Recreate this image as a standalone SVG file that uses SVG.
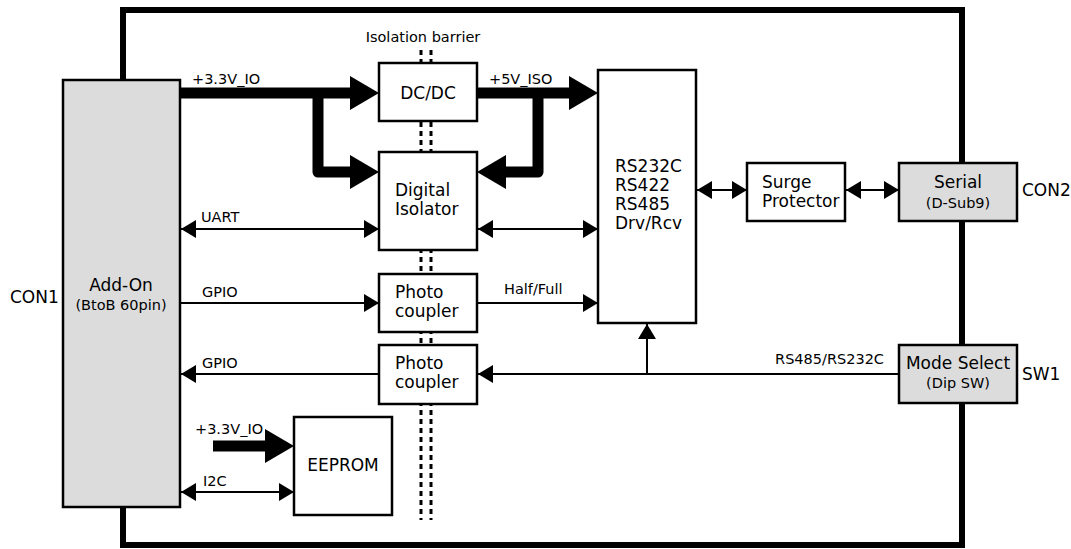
<svg xmlns="http://www.w3.org/2000/svg" width="1071" height="549" viewBox="0 0 1071 549">
<style>
text{font-family:"DejaVu Sans",Verdana,sans-serif;fill:#000}
.box{fill:#fff;stroke:#000;stroke-width:2.5}
.gbox{fill:#dcdcdc;stroke:#000;stroke-width:2.5}
.t14{font-size:17px}
.t12{font-size:14.5px}
.t11{font-size:14.5px}
.thin{stroke:#000;stroke-width:2;fill:none}
.thick{stroke:#000;stroke-width:11;fill:none;stroke-linejoin:round}
.bar{stroke:#000;stroke-width:3;stroke-dasharray:5 4;fill:none}
</style>
<defs>
<marker id="ah" viewBox="0 0 15 18" refX="15" refY="9" markerWidth="15" markerHeight="18" markerUnits="userSpaceOnUse" orient="auto-start-reverse">
<path d="M0,0 L15,9 L0,18 z" fill="#000"/>
</marker>
</defs>
<rect id="frame" x="123" y="10" width="839" height="535" fill="#fff" stroke="#000" stroke-width="6"/>
<g id="barrier">
<line class="bar" x1="421" y1="50" x2="421" y2="520"/>
<line class="bar" x1="431" y1="50" x2="431" y2="520"/>
<text class="t12" x="423" y="42" text-anchor="middle">Isolation barrier</text>
</g>
<g id="connectors">
<path class="thick" d="M180,93 L352,93"/>
<polygon points="350,76 379,93 350,110"/>
<path class="thick" d="M318,93 L318,172 L352,172"/>
<polygon points="350,155 379,172 350,189"/>
<path class="thick" d="M477,93 L572,93"/>
<polygon points="569,76 598,93 569,110"/>
<path class="thick" d="M538,93 L538,172 L504,172"/>
<polygon points="506,155 477,172 506,189"/>
<path class="thick" d="M213,446 L267,446"/>
<polygon points="265,429 294,446 265,463"/>
<line class="thin" x1="181" y1="229" x2="379" y2="229" marker-start="url(#ah)" marker-end="url(#ah)"/>
<line class="thin" x1="478" y1="229" x2="598" y2="229" marker-start="url(#ah)" marker-end="url(#ah)"/>
<line class="thin" x1="180" y1="303" x2="379" y2="303" marker-end="url(#ah)"/>
<line class="thin" x1="477" y1="303" x2="598" y2="303" marker-end="url(#ah)"/>
<line class="thin" x1="379" y1="374" x2="181" y2="374" marker-end="url(#ah)"/>
<line class="thin" x1="899" y1="374" x2="478" y2="374" marker-end="url(#ah)"/>
<line class="thin" x1="647" y1="374" x2="647" y2="324" marker-end="url(#ah)"/>
<line class="thin" x1="697" y1="190" x2="747" y2="190" marker-start="url(#ah)" marker-end="url(#ah)"/>
<line class="thin" x1="846" y1="190" x2="899" y2="190" marker-start="url(#ah)" marker-end="url(#ah)"/>
<line class="thin" x1="181" y1="492" x2="294" y2="492" marker-start="url(#ah)" marker-end="url(#ah)"/>
<text class="t12" x="192" y="84">+3.3V_IO</text>
<text class="t12" x="489" y="84">+5V_ISO</text>
<text class="t12" x="201" y="222">UART</text>
<text class="t12" x="202" y="297">GPIO</text>
<text class="t12" x="504" y="294">Half/Full</text>
<text class="t12" x="202" y="368">GPIO</text>
<text class="t12" x="884" y="364" text-anchor="end">RS485/RS232C</text>
<text class="t12" x="195" y="434">+3.3V_IO</text>
<text class="t12" x="203" y="486">I2C</text>
</g>
<g id="addon">
<rect class="gbox" x="63" y="80" width="117" height="427"/>
<text class="t14" x="121" y="291" text-anchor="middle">Add-On</text>
<text class="t11" x="121" y="310" text-anchor="middle">(BtoB 60pin)</text>
<text class="t14" x="10" y="303">CON1</text>
</g>
<g id="dcdc">
<rect class="box" x="379" y="63" width="98" height="58"/>
<text class="t14" x="428" y="99" text-anchor="middle">DC/DC</text>
</g>
<g id="isolator">
<rect class="box" x="379" y="152" width="98" height="98"/>
<text class="t14" x="395" y="196">Digital</text>
<text class="t14" x="395" y="215">Isolator</text>
</g>
<g id="photo1">
<rect class="box" x="379" y="274" width="98" height="58"/>
<text class="t14" x="395" y="298">Photo</text>
<text class="t14" x="395" y="317">coupler</text>
</g>
<g id="photo2">
<rect class="box" x="379" y="345" width="98" height="59"/>
<text class="t14" x="395" y="369">Photo</text>
<text class="t14" x="395" y="388">coupler</text>
</g>
<g id="eeprom">
<rect class="box" x="294" y="417" width="98" height="98"/>
<text class="t14" x="343" y="471" text-anchor="middle">EEPROM</text>
</g>
<g id="driver">
<rect class="box" x="598" y="70" width="98" height="253"/>
<text class="t14" x="615" y="172">RS232C</text>
<text class="t14" x="615" y="191">RS422</text>
<text class="t14" x="615" y="210">RS485</text>
<text class="t14" x="615" y="229">Drv/Rcv</text>
</g>
<g id="surge">
<rect class="box" x="747" y="163" width="98" height="58"/>
<text class="t14" x="762" y="188">Surge</text>
<text class="t14" x="762" y="207">Protector</text>
</g>
<g id="serial">
<rect class="gbox" x="899" y="163" width="118" height="58"/>
<text class="t14" x="958" y="188" text-anchor="middle">Serial</text>
<text class="t11" x="958" y="208" text-anchor="middle">(D-Sub9)</text>
<text class="t14" x="1022" y="196">CON2</text>
</g>
<g id="mode">
<rect class="gbox" x="899" y="345" width="118" height="58"/>
<text class="t14" x="958" y="369" text-anchor="middle">Mode Select</text>
<text class="t11" x="958" y="388" text-anchor="middle">(Dip SW)</text>
<text class="t14" x="1022" y="380">SW1</text>
</g>
</svg>
